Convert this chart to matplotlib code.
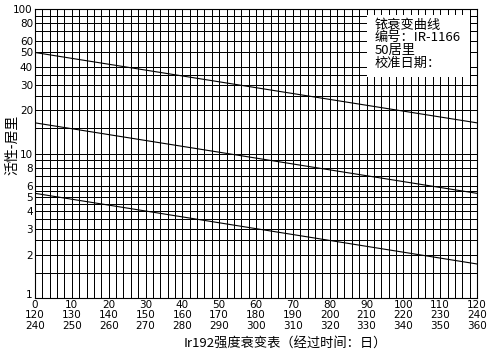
import matplotlib
matplotlib.use('Agg')
import matplotlib.pyplot as plt
from matplotlib.ticker import FixedLocator, NullFormatter

# decay curves (each one is straight on the log axis)
days = [0, 120]
curve1 = [50.0, 16.3]    # days 0..120
curve2 = [16.3, 5.3]     # days 120..240
curve3 = [5.3, 1.72]     # days 240..360

xticks = [0, 10, 20, 30, 40, 50, 60, 70, 80, 90, 100, 110, 120]
row2 = [120, 130, 140, 150, 160, 170, 180, 190, 200, 210, 220, 230, 240]
row3 = [240, 250, 260, 270, 280, 290, 300, 310, 320, 330, 340, 350, 360]
yticks = [1, 2, 3, 4, 5, 6, 8, 10, 20, 30, 40, 50, 60, 80, 100]
ygrid_minor = [1.5, 2.5, 3.5, 4.5, 5.5, 7, 9, 15, 25, 35, 70, 90]

legend_lines = ['铱衰变曲线', '编号：IR-1166', '50居里', '校准日期：']

cjk = ['Noto Sans CJK SC', 'DejaVu Sans']

fig = plt.figure(figsize=(4.87, 3.54), dpi=100)
ax = fig.add_axes([35/487, 56/354, 442/487, 289/354])

ax.set_yscale('log')
ax.set_xlim(0, 120)
ax.set_ylim(1, 100)

ax.yaxis.set_major_locator(FixedLocator(yticks))
ax.yaxis.set_minor_locator(FixedLocator(ygrid_minor))
ax.yaxis.set_minor_formatter(NullFormatter())
ylabs = ax.set_yticklabels([str(v) for v in yticks])
ylabs[0].set_va('baseline')   # "1" sits just above the corner, like the original

ax.xaxis.set_major_locator(FixedLocator(xticks))
ax.xaxis.set_minor_locator(FixedLocator(list(range(0, 121, 2))))
ax.set_xticklabels(['%d\n%d\n%d' % (a, b, c) for a, b, c in zip(xticks, row2, row3)],
                   linespacing=1.05)

ax.tick_params(axis='both', which='both', length=0, labelsize=7.5, pad=1.5)
ax.grid(True, which='both', color='black', lw=0.6, antialiased=False)
for s in ax.spines.values():
    s.set_linewidth(0.8)

ax.plot(days, curve1, color='black', lw=0.8)
ax.plot(days, curve2, color='black', lw=0.8)
ax.plot(days, curve3, color='black', lw=0.8)

# white label box sitting on the grid
fig.patches.append(plt.Rectangle((367/487, 1 - 77/354), 103/487, 62/354,
                                 transform=fig.transFigure, facecolor='white',
                                 edgecolor='none', zorder=5))
for i, t in enumerate(legend_lines):
    fig.text(375/487, 1 - (25 + 12.7*i)/354, t, family=cjk, fontsize=9.5,
             va='center', ha='left', zorder=6)

fig.text(12/487, 1 - 145/354, '活性-居里', family=cjk, fontsize=10,
         rotation=90, va='center', ha='center')
fig.text(285/487, 1 - 343/354, 'Ir192强度衰变表（经过时间：日）', family=cjk,
         fontsize=9.5, va='center', ha='center')

fig.savefig('out.png', dpi=100)
